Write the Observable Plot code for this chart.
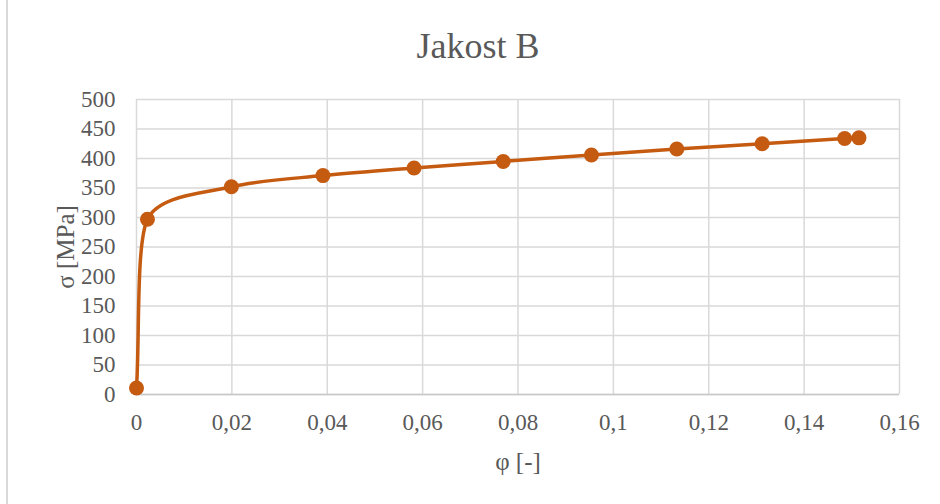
<!DOCTYPE html>
<html>
<head>
<meta charset="utf-8">
<script src="https://cdn.jsdelivr.net/npm/d3@7"></script>
<script src="https://cdn.jsdelivr.net/npm/@observablehq/plot@0.6"></script>
<style>
  html, body { margin: 0; padding: 0; background: #fff; }
  #wrap { position: relative; width: 940px; height: 504px; overflow: hidden; }
  #edge { position: absolute; left: 6px; top: 0; width: 0; height: 504px; border-left: 2px solid #d9d9d9; }
  svg { font-family: "Liberation Serif", "Times New Roman", serif; }
</style>
</head>
<body>
<div id="wrap"><div id="edge"></div><div id="chart"></div></div>
<script>
const strain = [0, 0.0023, 0.0199, 0.0391, 0.0582, 0.0769, 0.0954, 0.1133, 0.1312, 0.1485, 0.1515];
const stress = [11, 297, 352, 371, 384, 395, 406, 416, 425, 434, 435];
const xTicks = [0, 0.02, 0.04, 0.06, 0.08, 0.1, 0.12, 0.14, 0.16];
const yTicks = [0, 50, 100, 150, 200, 250, 300, 350, 400, 450, 500];
const title = "Jakost B";
const xLabel = "φ [-]";
const yLabel = "σ [MPa]";

const data = strain.map((x, i) => ({x, y: stress[i]}));
const fmt = d => String(d).replace(".", ",");
const color = "#c55a11";
const textColor = "#595959";

// Spreadsheet-style smoothed line: cubic Bezier through every point,
// tangent along neighbours, handle length limited by the shorter adjacent chord.
function smoothCurve(context) {
  const k = 0.3;
  let pts;
  return {
    areaStart() {}, areaEnd() {},
    lineStart() { pts = []; },
    point(x, y) { pts.push([+x, +y]); },
    lineEnd() {
      const n = pts.length;
      if (!n) return;
      context.moveTo(pts[0][0], pts[0][1]);
      if (n === 1) return;
      const dist = (a, b) => Math.hypot(b[0] - a[0], b[1] - a[1]);
      const tan = pts.map((p, i) => {
        const a = pts[Math.max(0, i - 1)], b = pts[Math.min(n - 1, i + 1)];
        const l = dist(a, b) || 1;
        return [(b[0] - a[0]) / l, (b[1] - a[1]) / l];
      });
      for (let i = 0; i < n - 1; i++) {
        const p = pts[i], q = pts[i + 1];
        const d = dist(p, q);
        const dPrev = i > 0 ? dist(pts[i - 1], p) : d;
        const dNext = i + 2 < n ? dist(q, pts[i + 2]) : d;
        const mOut = Math.min(dPrev, d) * k;
        const mIn = Math.min(d, dNext) * k;
        context.bezierCurveTo(
          p[0] + tan[i][0] * mOut, p[1] + tan[i][1] * mOut,
          q[0] - tan[i + 1][0] * mIn, q[1] - tan[i + 1][1] * mIn,
          q[0], q[1]
        );
      }
    }
  };
}

const chart = Plot.plot({
  width: 940,
  height: 504,
  marginLeft: 136,
  marginRight: 41,
  marginTop: 99,
  marginBottom: 110,
  style: {fontFamily: '"Liberation Serif", "Times New Roman", serif', fontSize: "23px", color: textColor, background: "transparent"},
  x: {domain: [0, 0.16], ticks: xTicks, tickFormat: fmt},
  y: {domain: [0, 500], ticks: yTicks},
  marks: [
    Plot.gridX(xTicks, {stroke: "#d9d9d9", strokeOpacity: 1, strokeWidth: 1.5}),
    Plot.gridY(yTicks, {stroke: "#d9d9d9", strokeOpacity: 1, strokeWidth: 1.5}),
    Plot.ruleY([0], {stroke: "#c8c8c8", strokeWidth: 1.5}),
    Plot.axisX(xTicks, {tickSize: 0, tickPadding: 19, tickFormat: fmt, fontSize: 23, fill: textColor, label: null}),
    Plot.axisY(yTicks, {tickSize: 0, tickPadding: 21, fontSize: 23, fill: textColor, label: null}),
    Plot.text([xLabel], {frameAnchor: "bottom", lineAnchor: "middle", dy: 67, fontSize: 25, fill: textColor}),
    Plot.text([yLabel], {frameAnchor: "left", textAnchor: "middle", lineAnchor: "middle", dx: -71, rotate: -90, fontSize: 25, fill: textColor}),
    Plot.text([title], {frameAnchor: "top", lineAnchor: "middle", dx: -40, dy: -53, fontSize: 36, fill: textColor}),
    Plot.line(data, {x: "x", y: "y", stroke: color, strokeWidth: 3.5, curve: smoothCurve}),
    Plot.dot(data, {x: "x", y: "y", r: 7.5, fill: color, stroke: "none"})
  ]
});
document.getElementById("chart").appendChild(chart);
</script>
</body>
</html>
